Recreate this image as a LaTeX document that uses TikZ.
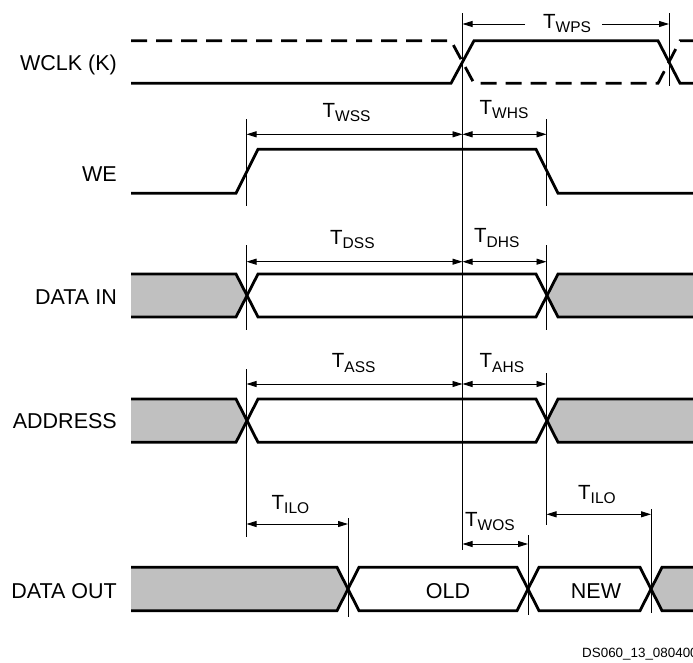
\documentclass[tikz,border=0pt]{standalone}
\usepackage{fontspec}
\setmainfont{Liberation Sans}
\usetikzlibrary{arrows.meta}
\definecolor{busgray}{RGB}{192,192,192}
\newcommand{\Tsub}[1]{T\raisebox{-4.5pt}{\fontsize{15.5}{15.5}\selectfont #1}}
\begin{document}
\begin{tikzpicture}[x=1pt,y=-1pt,
  sig/.style={line width=2.8pt,line join=miter},
  dsig/.style={sig,dash pattern=on 16pt off 9pt},
  vline/.style={line width=0.9pt},
  tip/.tip={Triangle[length=10pt,width=6pt]},
  dimarrow/.style={line width=0.9pt,tip-tip},
  halfarrow/.style={line width=0.9pt,-tip},
  siglabel/.style={anchor=base east,inner sep=0pt,font=\fontsize{21.5}{25}\selectfont},
  tlabel/.style={anchor=base west,inner sep=0pt,font=\fontsize{20.5}{24}\selectfont},
  buslabel/.style={anchor=center,inner sep=0pt,font=\fontsize{21.5}{25}\selectfont},
  busfill/.style={fill=busgray}
]
\useasboundingbox (0,0) rectangle (693,662);
\clip (0,0) rectangle (693,662);

% ---------- signal names ----------
\node[siglabel] (nWCLK) at (117,70) {WCLK (K)};
\node[siglabel] (nWE)   at (117,181.7) {WE};
\node[siglabel] (nDIN)  at (117,304) {DATA IN};
\node[siglabel] (nADDR) at (117,428.3) {ADDRESS};
\node[siglabel] (nDOUT) at (117,598.3) {DATA OUT};

% ---------- WCLK ----------
\draw[dsig] (131,40.7) -- (451,40.7) -- (474,83.3) -- (658,83.3) -- (680,40.7) -- (700,40.7);
\draw[sig] (131,83.3) -- (451,83.3) -- (474,40.7) -- (658,40.7) -- (680,83.3) -- (700,83.3);

% ---------- WE ----------
\draw[sig] (131,193.3) -- (236,193.3) -- (258,149.3) -- (536,149.3) -- (558,193.3) -- (700,193.3);

% ---------- DATA IN ----------
\fill[busfill] (131,274) -- (236,274) -- (247,295.5) -- (236,317) -- (131,317) -- cycle;
\fill[busfill] (547,295.5) -- (558,274) -- (700,274) -- (700,317) -- (558,317) -- cycle;
\draw[sig] (131,274) -- (236,274) -- (258,317) -- (536,317) -- (558,274) -- (700,274);
\draw[sig] (131,317) -- (236,317) -- (258,274) -- (536,274) -- (558,317) -- (700,317);

% ---------- ADDRESS ----------
\fill[busfill] (131,399) -- (236,399) -- (247,420.7) -- (236,442.3) -- (131,442.3) -- cycle;
\fill[busfill] (547,420.7) -- (558,399) -- (700,399) -- (700,442.3) -- (558,442.3) -- cycle;
\draw[sig] (131,399) -- (236,399) -- (258,442.3) -- (536,442.3) -- (558,399) -- (700,399);
\draw[sig] (131,442.3) -- (236,442.3) -- (258,399) -- (536,399) -- (558,442.3) -- (700,442.3);

% ---------- DATA OUT ----------
\fill[busfill] (131,567.3) -- (337,567.3) -- (348,589) -- (337,610.7) -- (131,610.7) -- cycle;
\fill[busfill] (651,589) -- (662,567.3) -- (700,567.3) -- (700,610.7) -- (662,610.7) -- cycle;
\draw[sig] (131,567.3) -- (337,567.3) -- (359,610.7) -- (517,610.7) -- (539,567.3) -- (640,567.3) -- (662,610.7) -- (700,610.7);
\draw[sig] (131,610.7) -- (337,610.7) -- (359,567.3) -- (517,567.3) -- (539,610.7) -- (640,610.7) -- (662,567.3) -- (700,567.3);
\node[buslabel] (nOLD) at (448,590.7) {OLD};
\node[buslabel] (nNEW) at (596,590.7) {NEW};

% ---------- reference lines ----------
\draw[vline] (246.5,119.3) -- (246.5,206);
\draw[vline] (246.5,245) -- (246.5,330);
\draw[vline] (246.5,369.3) -- (246.5,536.7);
\draw[vline] (462.5,13.3) -- (462.5,550);
\draw[vline] (546.5,119.3) -- (546.5,206);
\draw[vline] (546.5,245) -- (546.5,330);
\draw[vline] (546.5,373.3) -- (546.5,525);
\draw[vline] (669,13.3) -- (669,86);
\draw[vline] (348,518.3) -- (348,616.7);
\draw[vline] (528,535) -- (528,615);
\draw[vline] (651,509.3) -- (651,613.3);

% ---------- dimension coordinates ----------
\coordinate (wpsL) at (462.5,24);   \coordinate (wpsLg) at (525,24);
\coordinate (wpsR) at (669,24);     \coordinate (wpsRg) at (602,24);
\coordinate (wssL) at (246.5,134.3); \coordinate (wssR) at (462.5,134.3); \coordinate (whsR) at (546.5,134.3);
\coordinate (dssL) at (246.5,261.7); \coordinate (dssR) at (462.5,261.7); \coordinate (dhsR) at (546.5,261.7);
\coordinate (assL) at (246.5,384);   \coordinate (assR) at (462.5,384);   \coordinate (ahsR) at (546.5,384);
\coordinate (ilo1L) at (246.5,524);  \coordinate (ilo1R) at (348,524);
\coordinate (wosL) at (462.5,544);   \coordinate (wosR) at (528,544);
\coordinate (ilo2L) at (546.5,514.3); \coordinate (ilo2R) at (651,514.3);

% ---------- dimension arrows ----------
\draw[halfarrow] (wpsLg) -- (wpsL);
\draw[halfarrow] (wpsRg) -- (wpsR);
\draw[dimarrow] (wssL) -- (wssR);
\draw[dimarrow] (wssR) -- (whsR);
\draw[dimarrow] (dssL) -- (dssR);
\draw[dimarrow] (dssR) -- (dhsR);
\draw[dimarrow] (assL) -- (assR);
\draw[dimarrow] (assR) -- (ahsR);
\draw[dimarrow] (ilo1L) -- (ilo1R);
\draw[dimarrow] (wosL) -- (wosR);
\draw[dimarrow] (ilo2L) -- (ilo2R);

% ---------- timing labels ----------
\node[tlabel] (tWPS) at (543,28.3) {\Tsub{WPS}};
\node[tlabel] (tWSS) at (322.5,117) {\Tsub{WSS}};
\node[tlabel] (tWHS) at (479.5,114.3) {\Tsub{WHS}};
\node[tlabel] (tDSS) at (330,244.3) {\Tsub{DSS}};
\node[tlabel] (tDHS) at (474,242.6) {\Tsub{DHS}};
\node[tlabel] (tASS) at (331.7,367.6) {\Tsub{ASS}};
\node[tlabel] (tAHS) at (479.5,367.6) {\Tsub{AHS}};
\node[tlabel] (tILO1) at (271.5,509.3) {\Tsub{ILO}};
\node[tlabel] (tWOS) at (465,526) {\Tsub{WOS}};
\node[tlabel] (tILO2) at (578,499.3) {\Tsub{ILO}};

% ---------- footer ----------
\node[anchor=base west,inner sep=0pt,font=\fontsize{13.4}{15}\selectfont] (foot) at (582,657.3) {DS060\_13\_080400};
\end{tikzpicture}
\end{document}
